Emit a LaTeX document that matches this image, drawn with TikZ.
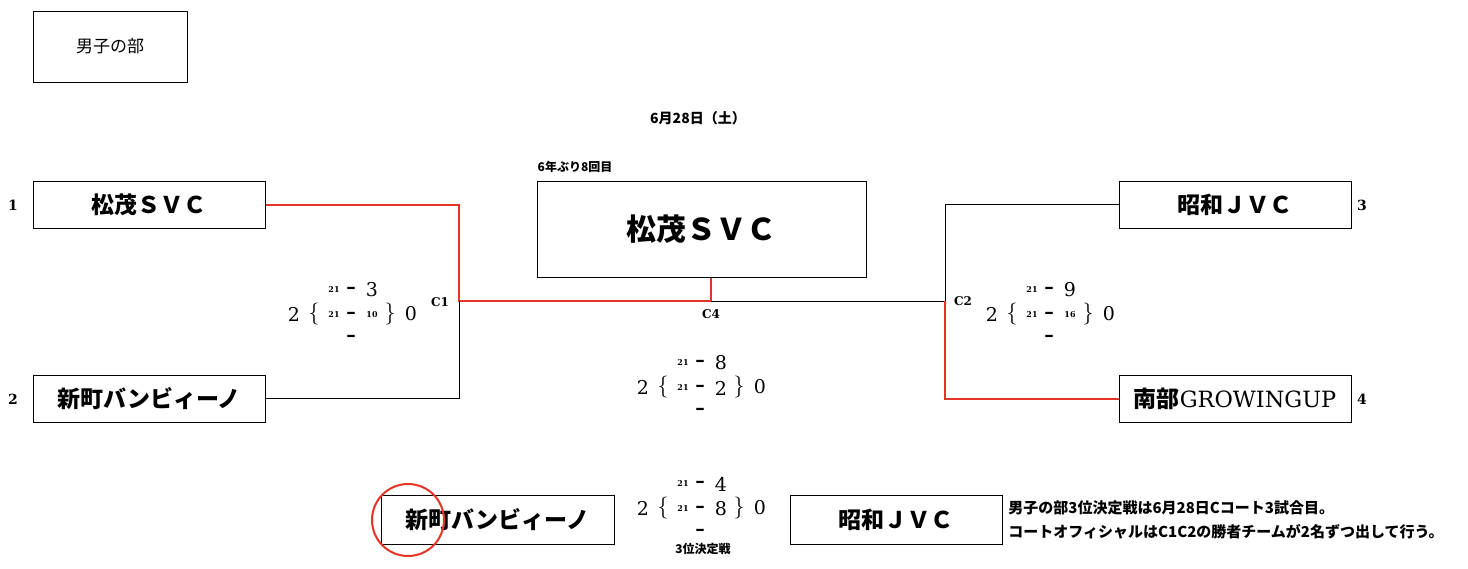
\documentclass[tikz,border=0pt]{standalone}
\usepackage{fontspec}
\setmainfont{DejaVu Serif}
\newfontfamily\jp{Noto Sans CJK JP}
\newcommand\ssm{\fontsize{4}{4}\selectfont\bfseries}
\definecolor{winred}{RGB}{228,52,38}
\begin{document}
\begin{tikzpicture}[x=0.5pt,y=-0.5pt,
	team/.style={draw,line width=0.5pt,minimum width=116pt,minimum height=23.5pt,inner sep=0pt,font=\jp\bfseries\fontsize{11.5}{12}\selectfont},
	seed/.style={font=\bfseries\fontsize{7}{7}\selectfont},
	court/.style={font=\bfseries\fontsize{6}{7}\selectfont},
	note/.style={font=\jp\bfseries\fontsize{7.5}{8}\selectfont,inner sep=0pt},
	bigpt/.style={font=\fontsize{9.5}{9}\selectfont,inner sep=0pt},
	setpt/.style={font=\ssm,inner sep=0pt},
	curly/.style={font=\fontsize{11}{11}\selectfont,inner sep=0pt},
	win/.style={winred,line width=1pt},
	lose/.style={black,line width=0.5pt}]
	\useasboundingbox (0,0) rectangle (1468,568);
	% heading
	\node[draw,line width=0.5pt,minimum width=77pt,minimum height=35.5pt,font=\jp\fontsize{8.5}{9}\selectfont] (title) at (110,46.5) {男子の部};
	\node[font=\jp\bfseries\fontsize{7}{7}\selectfont] (date) at (698,118) {6月28日（土）};
	% teams
	\node[team] (t1) at (149,204.5) {松茂ＳＶＣ};
	\node[team] (t2) at (149,398.5) {新町バンビィーノ};
	\node[team] (t3) at (1235,204.5) {昭和ＪＶＣ};
	\node[team] (t4) at (1235,398.5) {南部{\rmfamily\mdseries\fontsize{11.2}{12}\selectfont GROWINGUP}};
	\node[seed] (n1) at (13,205) {1};	\node[seed] (n2) at (13,399) {2};
	\node[seed] (n3) at (1362,205) {3};	\node[seed] (n4) at (1362,399) {4};
	% winner
	\node[team,minimum width=164.5pt,minimum height=48pt,font=\jp\bfseries\fontsize{15}{16}\selectfont] (champ) at (701.5,229) {松茂ＳＶＣ};
	\node[font=\jp\bfseries\fontsize{6}{6}\selectfont] (times) at (575,167) {6年ぶり8回目};
	% bracket
	\coordinate (c1) at (459,301);
	\coordinate (c4) at (711,301);
	\coordinate (c2) at (945,301);
	\draw[win] (t1.east) -| (c1) -- (c4) -- (c4 |- champ.south);
	\draw[lose] (t2.east) -| (c1);
	\draw[lose] (c4) -- (c2);
	\draw[lose] (t3.west) -| (c2);
	\draw[win] (t4.west) -| (c2);
	\node[court] (k1) at (440,302) {C1};
	\node[court] (k4) at (711,314) {C4};
	\node[court] (k2) at (963,301) {C2};
	% scores
	\foreach \n/\cx/\cy/\ra/\rb in {1/351/314/3/\ssm 10, 2/1049/314/9/\ssm 16, 4/700/387/8/2, 3/700/508/4/8}{
		\node[bigpt] (s\n-w) at (\cx-57,\cy) {2};
		\node[curly] (s\n-ob) at (\cx-37,\cy) {$\{$};
		\node[setpt] (s\n-a1) at (\cx-17,\cy-24) {21};
		\node[bigpt] (s\n-d1) at (\cx,\cy-24) {\bfseries –};
		\node[bigpt] (s\n-b1) at (\cx+21,\cy-24) {\ra};
		\node[setpt] (s\n-a2) at (\cx-17,\cy+1) {21};
		\node[bigpt] (s\n-d2) at (\cx,\cy+1) {\bfseries –};
		\node[bigpt] (s\n-b2) at (\cx+21,\cy+1) {\rb};
		\node[bigpt] (s\n-d3) at (\cx,\cy+24) {\bfseries –};
		\node[curly] (s\n-cb) at (\cx+39,\cy) {$\}$};
		\node[bigpt] (s\n-l) at (\cx+60,\cy) {0};
	}
	% third place
	\node[font=\jp\bfseries\fontsize{6}{6}\selectfont] (bronze) at (703,549) {3位決定戦};
	\node[team,minimum width=116.5pt,minimum height=24.5pt] (th1) at (497.5,519.5) {新町バンビィーノ};
	\node[team,minimum width=106pt,minimum height=24.5pt] (th2) at (896,519.5) {昭和ＪＶＣ};
	\node[draw=winred,line width=1pt,circle,minimum size=36pt,inner sep=0pt] (ring) at (408,520) {};
	\node[note,anchor=west] (note1) at (1008,508) {男子の部3位決定戦は6月28日Cコート3試合目。};
	\node[note,anchor=west] (note2) at (1008,532) {コートオフィシャルはC1C2の勝者チームが2名ずつ出して行う。};
\end{tikzpicture}
\end{document}
